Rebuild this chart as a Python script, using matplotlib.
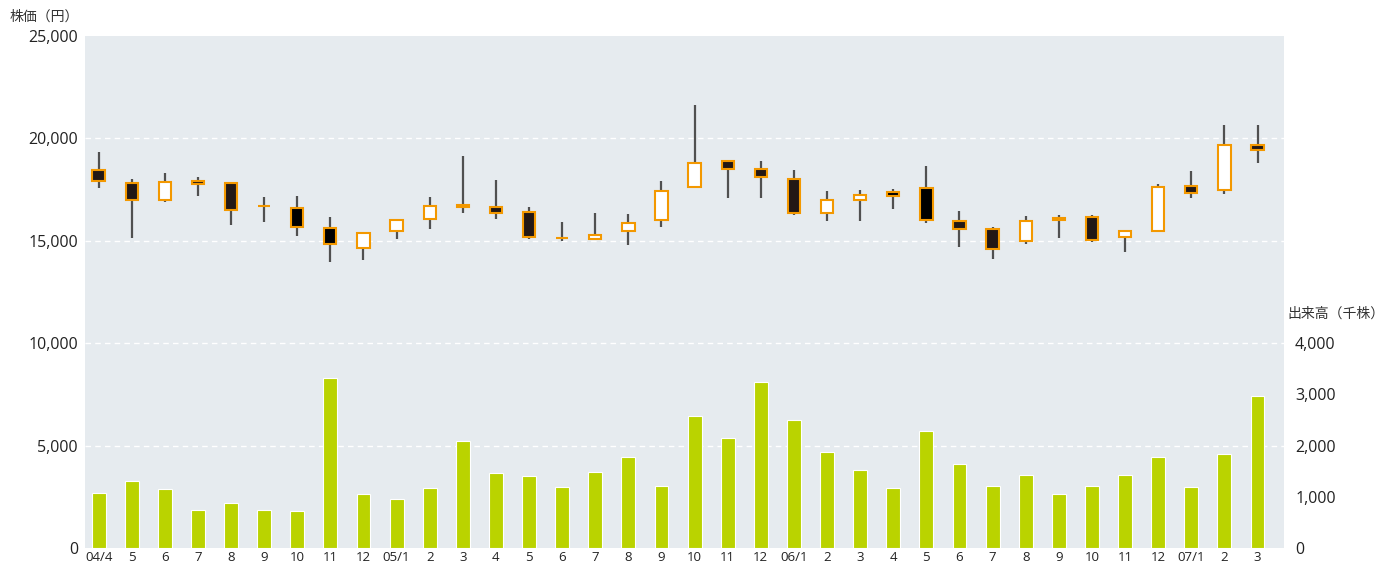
import numpy as np
import matplotlib.pyplot as plt

plt.rcParams['font.family'] = ['Open Sans', 'Noto Sans CJK JP', 'DejaVu Sans']

months = ['04/4', '5', '6', '7', '8', '9', '10', '11', '12',
          '05/1', '2', '3', '4', '5', '6', '7', '8', '9', '10', '11', '12',
          '06/1', '2', '3', '4', '5', '6', '7', '8', '9', '10', '11', '12',
          '07/1', '2', '3']

# monthly OHLC (yen)
opens = [18470, 17800, 17005, 17930, 17830, 16680, 16610, 15640, 14640,
         15490, 16080, 16660, 16660, 16430, 15130, 15080, 15490, 16030,
         17640, 18910, 18520, 18030, 16370, 17005, 17400, 17590, 15980,
         15590, 15000, 16030, 16175, 15200, 15490, 17690, 17490, 19690]
highs = [19350, 18000, 18320, 18130, 17880, 17120, 17170, 16170, 15420,
         16080, 17120, 19150, 17950, 16630, 15930, 16350, 16290, 17910,
         21610, 18910, 18920, 18470, 17440, 17490, 17510, 18660, 16450,
         15690, 16190, 16270, 16270, 15540, 17790, 18390, 20630, 20670]
lows = [17570, 15160, 16890, 17180, 15760, 15900, 15230, 13960, 14060,
        15070, 15590, 16350, 16060, 15070, 14990, 15030, 14800, 15650,
        17570, 17100, 17100, 16250, 15960, 15980, 16560, 15880, 14710,
        14100, 14860, 15130, 14950, 14460, 15470, 17100, 17280, 18810]
closes = [17930, 17000, 17880, 17790, 16520, 16680, 15690, 14850, 15380,
          16030, 16710, 16760, 16370, 15180, 15130, 15280, 15880, 17440,
          18810, 18520, 18130, 16370, 17005, 17230, 17180, 16030, 15590,
          14610, 15980, 16125, 15050, 15490, 17640, 17350, 19690, 19450]

# monthly volume (thousand shares)
volume = [1073, 1314, 1151, 748, 878, 748, 716, 3330, 1054,
          956, 1177, 2081, 1457, 1405, 1190, 1489, 1769, 1210,
          2569, 2146, 3233, 2498, 1880, 1515, 1177, 2276, 1645,
          1203, 1424, 1054, 1203, 1424, 1769, 1190, 1841, 2960]

black_idx = [6, 7, 24, 25]

x = np.arange(len(months))
o = np.array(opens)
c = np.array(closes)

fig = plt.figure(figsize=(13.83, 5.67), dpi=100)
ax = fig.add_axes([85 / 1383, 19 / 567, 1199 / 1383, 512 / 567])
ax.set_facecolor('#e6ebef')
ax.set_xlim(-0.41, 35.8)
ax.set_ylim(0, 25000)
ax.set_yticks([0, 5000, 10000, 15000, 20000, 25000])
ax.set_yticklabels([f'{v:,}' for v in ax.get_yticks().astype(int)], fontsize=11.5, color='#222222')
for g in [5000, 10000, 15000, 20000]:
    ax.axhline(g, color='white', linestyle=(0, (4, 3)), linewidth=1, zorder=0.5)
ax.set_xticks(x)
ax.set_xticklabels(months, fontsize=9.5, color='#222222')
ax.tick_params(axis='y', length=0, pad=5)
ax.tick_params(axis='x', length=0, pad=2)
for s in ax.spines.values():
    s.set_visible(False)

# wicks then bodies
ax.vlines(x, lows, highs, color='#505050', linewidth=1.6, zorder=2)
fills = []
for i in range(len(x)):
    if c[i] >= o[i]:
        fills.append('white')
    elif i in black_idx:
        fills.append('black')
    else:
        fills.append('#231815')
ax.bar(x, np.abs(c - o), bottom=np.minimum(o, c), width=0.37, color=fills,
       edgecolor='#f39800', linewidth=1.5, zorder=3)

ax2 = ax.twinx()
ax2.set_ylim(0, 10000)
ax2.set_yticks([0, 1000, 2000, 3000, 4000])
ax2.set_yticklabels([f'{v:,}' for v in [0, 1000, 2000, 3000, 4000]], fontsize=11.5, color='#222222')
ax2.bar(x, volume, width=0.42, color='#bad300', edgecolor='white', linewidth=0.8, zorder=2)
ax2.tick_params(length=0, pad=8)
for s in ax2.spines.values():
    s.set_visible(False)

fig.text(10 / 1383, 1 - 17 / 567, '株価（円）', fontsize=10, color='#333333', va='center')
fig.text(1287 / 1383, 1 - 314 / 567, '出来高（千株）', fontsize=10, color='#333333', va='center')

fig.savefig('out.png', dpi=100)
